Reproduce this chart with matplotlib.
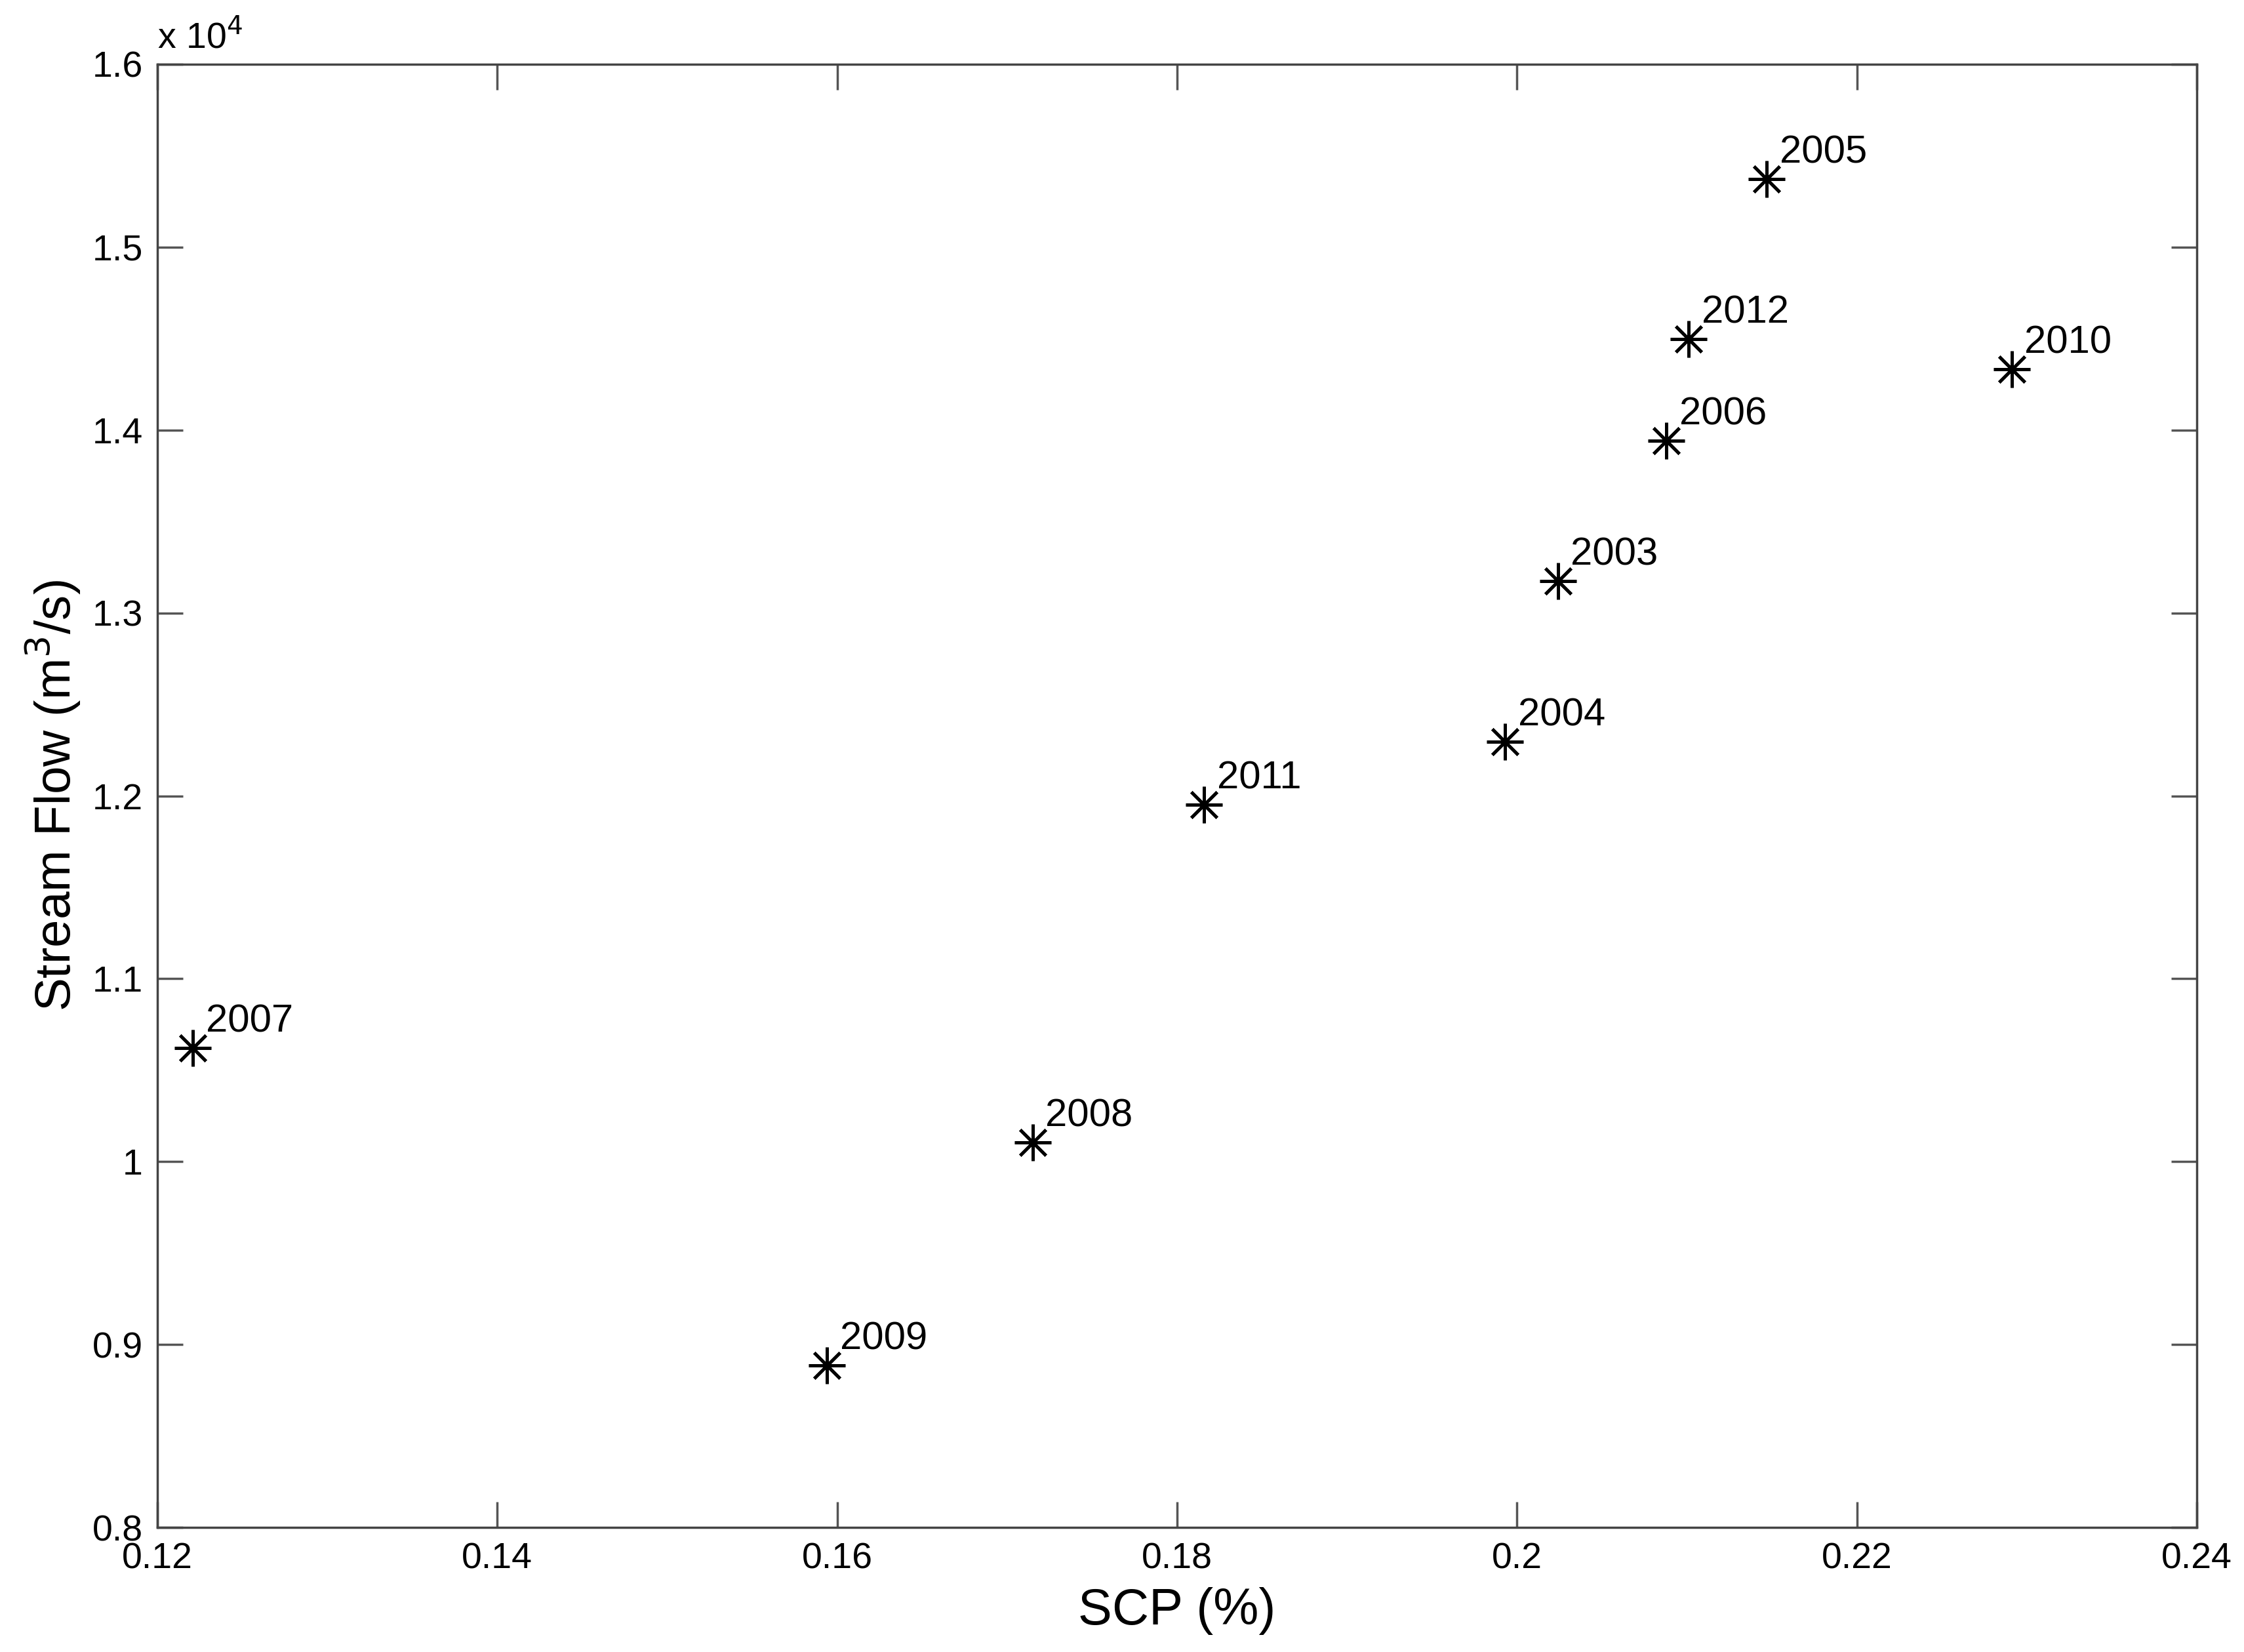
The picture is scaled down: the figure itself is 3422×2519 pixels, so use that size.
import matplotlib
matplotlib.use("Agg")
import matplotlib.pyplot as plt
from matplotlib.ticker import FuncFormatter, FixedLocator

years = ["2003", "2004", "2005", "2006", "2007", "2008", "2009", "2010", "2011", "2012"]
scp = [0.2024, 0.1993, 0.2147, 0.2088, 0.1221, 0.1715, 0.1594, 0.2291, 0.1816, 0.2101]
flow = [13174, 12297, 15374, 13941, 10622, 10106, 8885, 14333, 11953, 14497]

xticks = [0.12, 0.14, 0.16, 0.18, 0.20, 0.22, 0.24]
yticks = [8000, 9000, 10000, 11000, 12000, 13000, 14000, 15000, 16000]

plt.rcParams['font.family'] = ['Liberation Sans', 'DejaVu Sans']

fig = plt.figure(figsize=(34.22, 25.19), dpi=100)
ax = fig.add_axes([0.0701, 0.0754, 0.9089, 0.8857])

ax.plot(scp, flow, linestyle='none', marker=(8, 2, 0), markersize=40,
        markeredgewidth=3.5, color='black')
for xv, yv, lab in zip(scp, flow, years):
    ax.annotate(lab, (xv, yv), xytext=(14, 9), textcoords='offset points',
                fontsize=43, ha='left', va='bottom')

ax.set_xlim(0.12, 0.24)
ax.set_ylim(8000, 16000)
ax.xaxis.set_major_locator(FixedLocator(xticks))
ax.yaxis.set_major_locator(FixedLocator(yticks))
ax.xaxis.set_major_formatter(FuncFormatter(lambda v, p: '%g' % round(v, 4)))
ax.yaxis.set_major_formatter(FuncFormatter(lambda v, p: '%g' % round(v / 1e4, 4)))

ax.tick_params(direction='in', length=28, width=2.5, labelsize=40,
               top=True, right=True, pad=16, color='#555555')
for s in ax.spines.values():
    s.set_linewidth(2.5)
    s.set_color('#444444')

ax.text(0.0, 1.006, r'x 10$^4$', transform=ax.transAxes, fontsize=40,
        ha='left', va='bottom')

ax.set_xlabel('SCP (%)', fontsize=56, labelpad=12)
ax.set_ylabel('Stream Flow (m$^3$/s)', fontsize=55, labelpad=10)

fig.savefig('out.png', dpi=100)
